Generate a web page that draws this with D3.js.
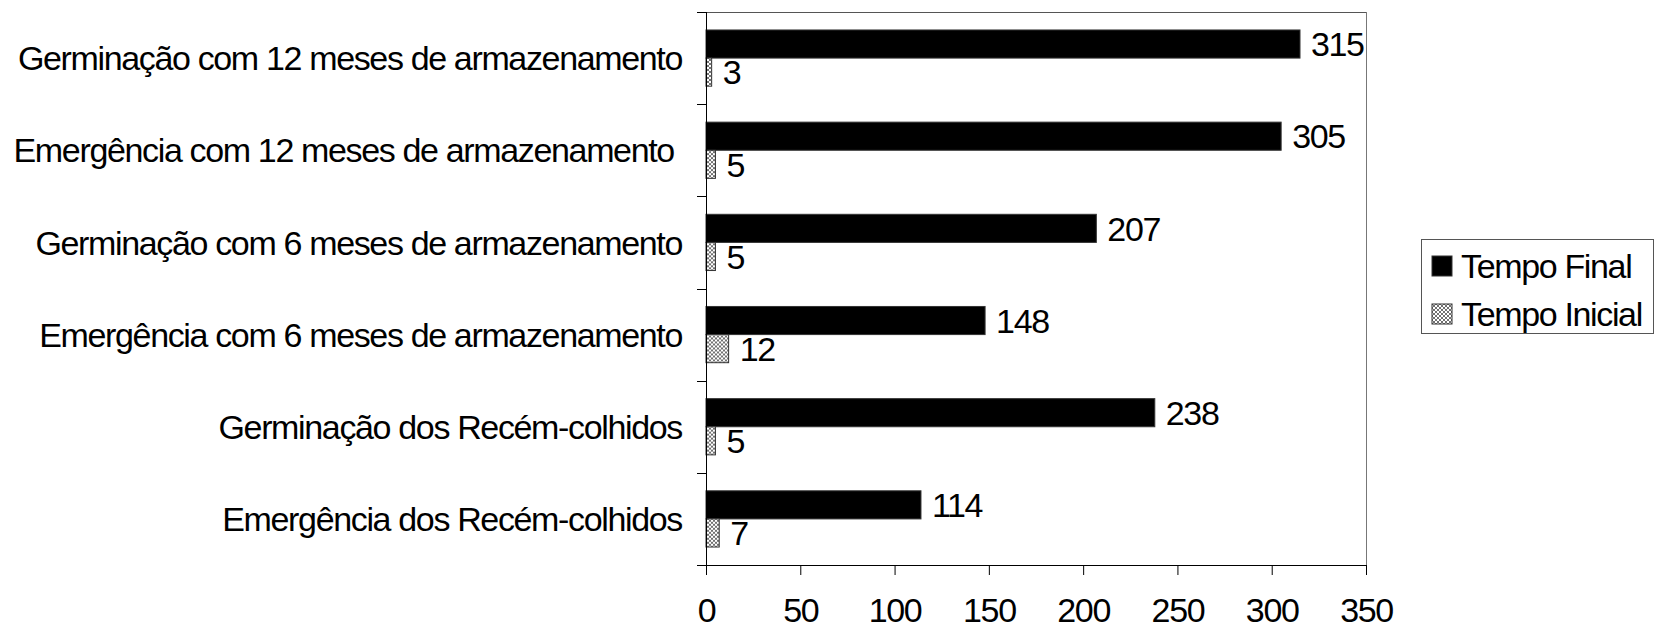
<!DOCTYPE html>
<html>
<head>
<meta charset="utf-8">
<script src="https://cdn.jsdelivr.net/npm/d3@7"></script>
<style>
  html, body { margin: 0; padding: 0; background: #fff; }
  svg { display: block; font-family: "Liberation Sans", Arial, sans-serif; }
</style>
</head>
<body>
<svg id="chart" width="1659" height="630"></svg>
<script>
// Categories, top to bottom
const categories = [
  "Germinação com 12 meses de armazenamento",
  "Emergência com 12 meses de armazenamento ",
  "Germinação com 6 meses de armazenamento",
  "Emergência com 6 meses de armazenamento",
  "Germinação dos Recém-colhidos",
  "Emergência dos Recém-colhidos"
];
const seriesNames = ["Tempo Final", "Tempo Inicial"];
const tempoFinal = [315, 305, 207, 148, 238, 114];
const tempoInicial = [3, 5, 5, 12, 5, 7];
const xTicks = [0, 50, 100, 150, 200, 250, 300, 350];

const svg = d3.select("#chart");
const plot = { left: 706, right: 1366, top: 12, bottom: 565 };
const fontSize = 34;
const tracking = -1.35;

// Crosshatch fill for the "Tempo Inicial" series
const defs = svg.append("defs");
const pat = defs.append("pattern")
  .attr("id", "hatch").attr("patternUnits", "userSpaceOnUse")
  .attr("width", 4).attr("height", 4);
pat.append("rect").attr("width", 4).attr("height", 4).attr("fill", "#fff");
pat.append("path").attr("d", "M0,0L4,4M4,0L0,4")
  .attr("stroke", "#333").attr("stroke-width", 0.7);

const x = d3.scaleLinear().domain([0, 350]).range([plot.left, plot.right]);
const y = d3.scaleBand().domain(categories).range([plot.top, plot.bottom])
  .paddingInner(0.39).paddingOuter(0.195);
const ySub = d3.scaleBand().domain(seriesNames).range([0, y.bandwidth()]);

const rows = categories.map((c, i) => ({
  cat: c,
  values: [
    { series: "Tempo Final", value: tempoFinal[i] },
    { series: "Tempo Inicial", value: tempoInicial[i] }
  ]
}));
const fillFor = s => s === "Tempo Final" ? "#000" : "url(#hatch)";

// Plot frame (top and right in gray)
svg.append("line").attr("x1", plot.left).attr("x2", plot.right)
  .attr("y1", plot.top + 0.5).attr("y2", plot.top + 0.5)
  .attr("stroke", "#555").attr("stroke-width", 1);
svg.append("line").attr("x1", plot.right + 0.5).attr("x2", plot.right + 0.5)
  .attr("y1", plot.top).attr("y2", plot.bottom)
  .attr("stroke", "#777").attr("stroke-width", 1);

// Bars
const groups = svg.append("g").selectAll("g").data(rows).join("g")
  .attr("transform", d => `translate(0,${y(d.cat)})`);
groups.selectAll("rect").data(d => d.values).join("rect")
  .attr("x", x(0))
  .attr("y", d => ySub(d.series))
  .attr("width", d => x(d.value) - x(0))
  .attr("height", ySub.bandwidth())
  .attr("fill", d => fillFor(d.series))
  .attr("stroke", "#333").attr("stroke-width", 1);

// Value labels
groups.selectAll("text").data(d => d.values).join("text")
  .attr("x", d => x(d.value) + 11)
  .attr("y", d => ySub(d.series) + ySub.bandwidth() / 2)
  .attr("dy", "0.36em")
  .attr("font-size", fontSize)
  .attr("letter-spacing", tracking)
  .attr("fill", "#000")
  .text(d => d.value);

// X axis
const xAxis = svg.append("g").attr("transform", `translate(0,${plot.bottom})`)
  .call(d3.axisBottom(x).tickValues(xTicks).tickSize(10).tickPadding(23));
xAxis.select(".domain").attr("stroke", "#000");
xAxis.selectAll(".tick line").attr("stroke", "#000");
xAxis.selectAll("text").attr("font-size", fontSize)
  .attr("letter-spacing", tracking)
  .attr("font-family", "\"Liberation Sans\", Arial, sans-serif").attr("fill", "#000");

// Y axis: ticks at category boundaries
const boundaries = d3.range(categories.length + 1)
  .map(i => plot.top + i * y.step());
const yAxis = svg.append("g");
yAxis.append("line").attr("x1", plot.left + 0.5).attr("x2", plot.left + 0.5)
  .attr("y1", plot.top).attr("y2", plot.bottom).attr("stroke", "#000");
yAxis.selectAll("line.tk").data(boundaries).join("line").attr("class", "tk")
  .attr("x1", plot.left - 9).attr("x2", plot.left)
  .attr("y1", d => Math.round(d) + 0.5).attr("y2", d => Math.round(d) + 0.5)
  .attr("stroke", "#000");

// Category labels
yAxis.selectAll("text").data(categories).join("text")
  .attr("x", 682)
  .attr("y", d => y(d) + y.bandwidth() / 2)
  .attr("dy", "0.36em")
  .attr("text-anchor", "end")
  .attr("font-size", fontSize)
  .attr("letter-spacing", tracking)
  .style("white-space", "pre")
  .attr("fill", "#000")
  .text(d => d);

// Legend
const legend = svg.append("g");
legend.append("rect").attr("x", 1421.5).attr("y", 239.5)
  .attr("width", 232).attr("height", 94)
  .attr("fill", "#fff").attr("stroke", "#555");
const li = legend.selectAll("g").data(seriesNames).join("g")
  .attr("transform", (d, i) => `translate(1432,${256 + i * 48})`);
li.append("rect").attr("width", 20).attr("height", 20)
  .attr("fill", d => fillFor(d)).attr("stroke", "#333");
li.append("text").attr("x", 29).attr("y", 10).attr("dy", "0.36em")
  .attr("font-size", fontSize).attr("letter-spacing", tracking)
  .attr("fill", "#000").text(d => d);
</script>
</body>
</html>
